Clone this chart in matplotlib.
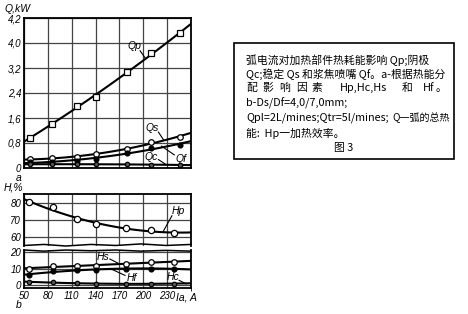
import matplotlib.pyplot as plt
from matplotlib.patches import Rectangle
import numpy as np

plt.rcParams['font.family'] = ['Liberation Sans', 'DejaVu Sans']

# a: heat consumption, kW
xa = [57, 85, 117, 140, 179, 210, 246]
qp = [0.96, 1.40, 1.98, 2.28, 3.06, 3.67, 4.31]
qs = [0.28, 0.31, 0.36, 0.44, 0.61, 0.82, 1.00]
qf = [0.18, 0.20, 0.23, 0.29, 0.49, 0.65, 0.74]
qc = [0.12, 0.12, 0.12, 0.12, 0.12, 0.10, 0.10]
q_ticks = [0, 0.8, 1.6, 2.4, 3.2, 4.0, 4.8]
q_labels = ['0', '0,8', '1,6', '2,4', '3,2', '4,0', '4,2']

# b: efficiency, %
xb = [56, 86, 117, 140, 178, 210, 239]
hp = [80.4, 77.5, 70.4, 67.5, 65.1, 64.1, 62.2]
hs = [10, 11.5, 11.5, 11.5, 13, 14, 14]
hf = [6, 8.5, 9.3, 9, 9.6, 10, 10]
hc = [1.7, 1.7, 1.0, 0.7, 0.5, 0.8, 0.8]
ia_ticks = [50, 80, 110, 140, 170, 200, 230]

W, H = 468, 314


def box(l, t, r, b):
    return [l / W, 1 - b / H, (r - l) / W, (b - t) / H]


def fig_xy(px, py):
    return px / W, 1 - py / H


def trend(x, y, deg=2):
    c = np.polyfit(x, y, deg)
    xx = np.linspace(50, 260, 120)
    return xx, np.polyval(c, xx)


def style(ax):
    ax.set_xlim(50, 260)
    ax.set_xticks(np.arange(50, 261, 30))
    ax.grid(True, color='#444444', lw=0.9)
    ax.tick_params(length=0, labelsize=7, pad=2)
    for t in ax.get_yticklabels() + ax.get_xticklabels():
        t.set_style('italic')
    for s in ax.spines.values():
        s.set_linewidth(1.3)


fig = plt.figure(figsize=(4.68, 3.14), dpi=100)

# ---- a ----
axq = fig.add_axes(box(24, 18, 191, 168))
axq.set_ylim(0, 4.8)
axq.set_yticks(q_ticks)
axq.set_yticklabels(q_labels)
style(axq)
axq.set_xticklabels([])
for y, m, fc, ms in [(qp, 's', 'white', 4.5), (qs, 'o', 'white', 4),
                     (qf, 'o', 'black', 3.5), (qc, 'o', '#555555', 3.2)]:
    xx, yy = trend(xa, y)
    axq.plot(xx, yy, color='black', lw=1.5, zorder=3)
    axq.plot(xa, y, ls='none', marker=m, mfc=fc, mec='black', ms=ms, mew=0.9, zorder=4)

def label(ax, txt, xy, end, start):
    ax.text(xy[0], xy[1], txt, fontsize=7.5, style='italic', ha='center', va='center')
    ax.plot([start[0], end[0]], [start[1], end[1]], color='black', lw=0.8)

label(axq, 'Qp', (189, 3.9), (203, 3.5), (196, 3.75))
label(axq, 'Qs', (211, 1.28), (226, 0.88), (219, 1.15))
label(axq, 'Qc', (210, 0.36), (228, 0.12), (219, 0.27))
label(axq, 'Qf', (248, 0.29), (223, 0.70), (239, 0.42))

# ---- b, upper part ----
axu = fig.add_axes(box(24, 194, 191, 246))
axu.set_ylim(54.7, 85.3)
axu.set_yticks([60, 70, 80])
style(axu)
axu.set_xticklabels([])
axu.spines['bottom'].set_visible(False)
xx, yy = trend(xb, hp)
axu.plot(xx, yy, color='black', lw=1.5, zorder=3)
axu.plot(xb, hp, ls='none', marker='o', mfc='white', mec='black', ms=4.5, mew=0.9, zorder=4)
label(axu, 'Hp', (244, 75.3), (225, 63.2), (236, 72.5))

# ---- b, lower part ----
axl = fig.add_axes(box(24, 250, 191, 288))
axl.set_ylim(-1.9, 21.3)
axl.set_yticks([0, 10, 20])
style(axl)
axl.set_xticks(ia_ticks)
axl.spines['top'].set_visible(False)
axl.set_xticks(np.arange(50, 261, 30), minor=True)
axl.grid(True, which='minor', axis='x', color='#444444', lw=0.9)
for y, fc, ms in [(hs, 'white', 4), (hf, 'black', 3.5), (hc, '#555555', 3.2)]:
    xx, yy = trend(xb, y)
    axl.plot(xx, yy, color='black', lw=1.5, zorder=3)
    axl.plot(xb, y, ls='none', marker='o', mfc=fc, mec='black', ms=ms, mew=0.9, zorder=4)
label(axl, 'Hs', (150, 16.9), (170, 12.8), (158, 15.8))
label(axl, 'Hf', (186, 4.4), (160, 9.6), (177, 5.8))
label(axl, 'Hc', (237, 5.0), (254, 0.6), (245, 2.8))

# wavy break lines
wx = [0, 0.12, 0.25, 0.4, 0.55, 0.7, 0.85, 1.0]
axu.plot(wx, [0.01, 0.03, 0.0, 0.03, 0.01, 0.04, 0.01, 0.03], transform=axu.transAxes,
         color='black', lw=1.1, clip_on=False)
axl.plot(wx, [1.0, 0.97, 1.0, 0.98, 1.0, 0.97, 0.99, 0.97], transform=axl.transAxes,
         color='black', lw=1.1, clip_on=False)

# axis captions
it = dict(fontsize=7.5, style='italic', ha='left', va='center')
fig.text(*fig_xy(4, 9), 'Q,kW', **it)
fig.text(*fig_xy(16, 178), 'a', **it)
fig.text(*fig_xy(4, 187), 'H,%', **it)
fig.text(*fig_xy(16, 305), 'b', **it)
fig.text(*fig_xy(176, 297), 'Ia, A', **it)

# caption box
l, t, r, b = 234, 43, 454, 159
fig.patches.append(Rectangle((l / W, 1 - b / H), (r - l) / W, (b - t) / H,
                             transform=fig.transFigure, fill=False, ec='black', lw=1.2))
cj = dict(fontsize=7.8, family=['Noto Sans CJK SC', 'DejaVu Sans'], va='center', ha='left')
fig.text(*fig_xy(246, 60), '弧电流对加热部件热耗能影响 Qp;阴极', **cj)
fig.text(*fig_xy(246, 74), 'Qc;稳定 Qs 和浆焦喷嘴 Qf。a-根据热能分', **cj)
for px, s in [(246, '配'), (262, '影'), (279, '响'), (296, '因'), (312, '素'),
              (340, 'Hp,Hc,Hs'), (402, '和'), (423, 'Hf'), (436, '。')]:
    fig.text(*fig_xy(px, 88), s, **cj)
fig.text(*fig_xy(246, 103), 'b-Ds/Df=4,0/7,0mm;', **cj)
fig.text(*fig_xy(246, 118), 'Qpl=2L/mines;Qtr=5l/mines;', **cj)
fig.text(*fig_xy(392, 118), 'Q一弧的总热', **dict(cj, fontsize=7.2))
fig.text(*fig_xy(246, 133), '能:  Hp一加热效率。', **cj)
cj['ha'] = 'center'
fig.text(*fig_xy(344, 148), '图 3', **cj)

fig.savefig('out.png', dpi=100)
